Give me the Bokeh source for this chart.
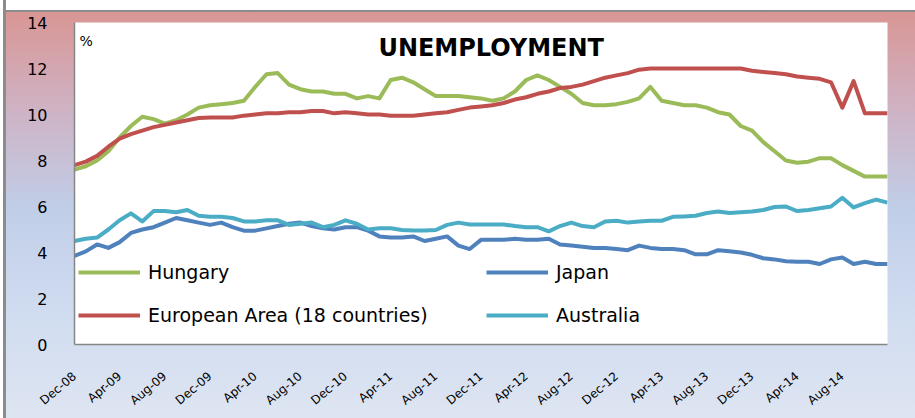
from bokeh.plotting import figure
from bokeh.models import Range1d, FixedTicker, Legend, LegendItem, Label
from bokeh.embed import file_html
from bokeh.resources import INLINE

# ---- data (monthly, Dec-08 .. Dec-14) ----
hungary = [7.6, 7.75, 8.0, 8.4, 9.0, 9.5, 9.9, 9.8, 9.6, 9.75,
           10.0, 10.3, 10.4, 10.45, 10.5, 10.6, 11.2, 11.75, 11.8, 11.3,
           11.1, 11.0, 11.0, 10.9, 10.9, 10.7, 10.8, 10.7, 11.5, 11.6,
           11.4, 11.1, 10.8, 10.8, 10.8, 10.75, 10.7, 10.6, 10.7, 11.0,
           11.5, 11.7, 11.5, 11.2, 10.9, 10.5, 10.4, 10.4, 10.45, 10.55,
           10.7, 11.2, 10.6, 10.5, 10.4, 10.4, 10.3, 10.1, 10.0, 9.5,
           9.3, 8.8, 8.4, 8.0, 7.9, 7.95, 8.1, 8.1, 7.8, 7.55,
           7.3, 7.3, 7.3]
euro_area = [7.8, 7.95, 8.2, 8.6, 8.95, 9.15, 9.3, 9.45, 9.55, 9.65,
             9.75, 9.85, 9.87, 9.87, 9.87, 9.95, 10.0, 10.05, 10.05, 10.1,
             10.1, 10.15, 10.15, 10.05, 10.1, 10.05, 10.0, 10.0, 9.95, 9.95,
             9.95, 10.0, 10.05, 10.1, 10.2, 10.3, 10.35, 10.4, 10.5, 10.65,
             10.75, 10.9, 11.0, 11.15, 11.2, 11.3, 11.45, 11.6, 11.7, 11.8,
             11.95, 12.0, 12.0, 12.0, 12.0, 12.0, 12.0, 12.0, 12.0, 12.0,
             11.9, 11.85, 11.8, 11.75, 11.65, 11.6, 11.55, 11.4, 10.3, 11.45,
             10.05, 10.05, 10.05]
japan = [3.85, 4.05, 4.35, 4.2, 4.45, 4.85, 5.0, 5.1, 5.3, 5.5,
         5.4, 5.3, 5.2, 5.3, 5.1, 4.95, 4.95, 5.05, 5.15, 5.25,
         5.3, 5.15, 5.05, 5.0, 5.1, 5.1, 4.95, 4.7, 4.65, 4.65,
         4.7, 4.5, 4.6, 4.7, 4.3, 4.15, 4.55, 4.55, 4.55, 4.6,
         4.55, 4.55, 4.6, 4.35, 4.3, 4.25, 4.2, 4.2, 4.15, 4.1,
         4.3, 4.2, 4.15, 4.15, 4.1, 3.92, 3.92, 4.1, 4.05, 4.0,
         3.9, 3.75, 3.7, 3.62, 3.6, 3.6, 3.5, 3.7, 3.78, 3.5,
         3.6, 3.5, 3.5]
australia = [4.5, 4.6, 4.65, 5.0, 5.4, 5.7, 5.35, 5.8, 5.8, 5.75,
             5.85, 5.6, 5.55, 5.55, 5.5, 5.35, 5.35, 5.4, 5.4, 5.2,
             5.25, 5.3, 5.1, 5.2, 5.4, 5.25, 5.0, 5.05, 5.05, 4.98,
             4.96, 4.96, 4.98, 5.2, 5.3, 5.22, 5.22, 5.22, 5.22, 5.15,
             5.1, 5.1, 4.92, 5.15, 5.3, 5.15, 5.1, 5.35, 5.38, 5.3,
             5.35, 5.38, 5.38, 5.55, 5.57, 5.6, 5.72, 5.78, 5.72, 5.75,
             5.78, 5.85, 5.98, 6.0, 5.8, 5.85, 5.92, 6.0, 6.38, 5.96,
             6.15, 6.3, 6.17]
tick_labels = ["Dec-08", "Apr-09", "Aug-09", "Dec-09", "Apr-10", "Aug-10",
               "Dec-10", "Apr-11", "Aug-11", "Dec-11", "Apr-12", "Aug-12",
               "Dec-12", "Apr-13", "Aug-13", "Dec-13", "Apr-14", "Aug-14"]
tick_step = 4
y_ticks = [0, 2, 4, 6, 8, 10, 12, 14]
series_names = ["Hungary", "Japan", "European Area (18 countries)", "Australia"]
series_colors = ["#9BBB59", "#4F81BD", "#C0504D", "#4BACC6"]

FONT = "DejaVu Sans"
W, H = 915, 418
n = len(hungary)
x = list(range(n))

p = figure(width=W, height=H, output_backend="svg", toolbar_location=None,
           x_range=Range1d(0, n - 1), y_range=Range1d(0, 14),
           min_border_left=74, min_border_right=28, min_border_top=22,
           min_border_bottom=74)
# transparent canvas border so the CSS gradient of the host element shows
p.border_fill_color = None
p.background_fill_color = "white"
p.outline_line_color = None
p.grid.visible = False
p.styles = {
    "background-image": (
        "linear-gradient(to right, #ffffff 0px, #ffffff 3px, #8C8C8C 3px, #8C8C8C 6px, rgba(0,0,0,0) 6px),"
        "linear-gradient(to bottom, #ffffff 0px, #ffffff 10px, #8C8C8C 10px, #8C8C8C 12px,"
        " #D99694 12px, #CFB2C4 26%, #C0CEE8 50%, #D0DCF0 75%, #DEE5F2 100%)"
    )
}

renderers = []
for data, color in zip([hungary, japan, euro_area, australia], series_colors):
    r = p.line(x, data, line_color=color, line_width=4, line_join="round")
    renderers.append(r)

# axes
p.xaxis.ticker = FixedTicker(ticks=[i * tick_step for i in range(len(tick_labels))])
p.xaxis.major_label_overrides = {i * tick_step: lab for i, lab in enumerate(tick_labels)}
p.xaxis.major_label_orientation = 0.70
p.xaxis.major_label_standoff = 30
p.xaxis.major_label_text_font = FONT
p.xaxis.major_label_text_font_size = "12px"
p.xaxis.major_label_text_color = "black"
p.yaxis.ticker = FixedTicker(ticks=y_ticks)
p.yaxis.major_label_standoff = 27
p.yaxis.major_label_text_font = FONT
p.yaxis.major_label_text_font_size = "16px"
p.yaxis.major_label_text_color = "black"
for ax in (p.xaxis, p.yaxis):
    ax.major_tick_line_color = None
    ax.minor_tick_line_color = None
    ax.major_tick_out = 0
    ax.major_tick_in = 0
    ax.axis_line_color = "#868686"
    ax.axis_line_width = 1.5

legend = Legend(items=[LegendItem(label=nm, renderers=[r]) for nm, r in zip(series_names, renderers)],
                location=(4, 18), orientation="horizontal", ncols=2,
                glyph_width=62, glyph_height=20, label_height=20, label_width=317,
                label_standoff=8, spacing=21, padding=0, margin=0,
                border_line_color=None, background_fill_alpha=0,
                label_text_font=FONT, label_text_font_size="19px", label_text_color="black")
p.add_layout(legend)

p.add_layout(Label(x=36.9, y=12.9, text="UNEMPLOYMENT", text_align="center",
                   text_baseline="middle", text_font=FONT, text_font_size="24px",
                   text_font_style="bold", text_color="black"))
p.add_layout(Label(x=0.45, y=13.2, text="%", text_align="left", text_baseline="middle",
                   text_font=FONT, text_font_size="14px", text_color="black"))

open("out.html", "w").write(file_html(p, INLINE))
